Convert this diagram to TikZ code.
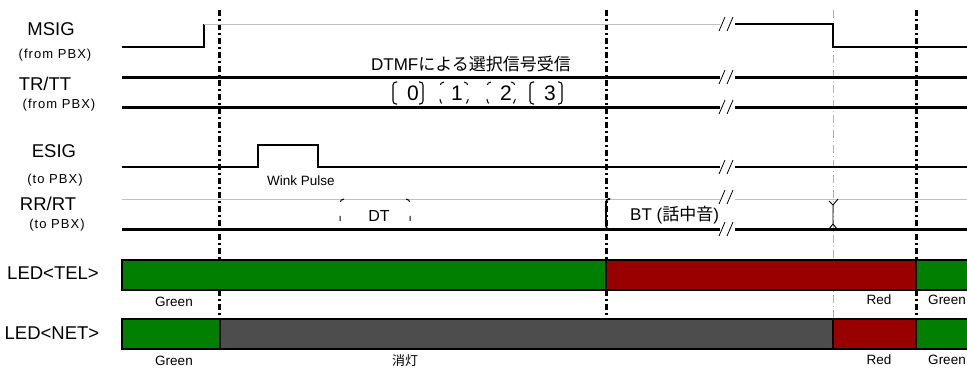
\documentclass[tikz,border=0pt]{standalone}
\usepackage{fontspec}
\setmainfont{Liberation Sans}
\newfontfamily\jp{Noto Sans CJK JP}
\newfontfamily\spaced[LetterSpace=8]{Liberation Sans}
\usepackage{tikz}
\definecolor{ledgreen}{HTML}{007F00}
\definecolor{ledred}{HTML}{990000}
\definecolor{ledoff}{HTML}{4D4D4D}
\tikzset{
  siglabel/.style={inner sep=0pt, font=\fontsize{18.5}{20}\selectfont},
  sublabel/.style={inner sep=0pt, font=\fontsize{13}{15}\selectfont\spaced},
  small/.style={inner sep=0pt, font=\fontsize{13.5}{15}\selectfont},
  sig/.style={line width=1.5pt},
  bus/.style={line width=3pt},
  faint/.style={draw=black!25, line width=0.9pt},
  marker/.style={line width=3pt, dash pattern=on 6pt off 3pt on 2pt off 3pt},
  fmarker/.style={draw=black!30, line width=0.6pt, dash pattern=on 8pt off 3pt on 1pt off 3pt},
  ledbar/.style={draw=black, line width=1.3pt},
  tone/.style={line width=1.1pt, rounded corners=3pt},
  sparse/.style={line width=1pt, rounded corners=4pt, dash pattern=on 5pt off 14pt}
}
% break mark on a line at height #1
\newcommand{\gapmark}[1]{%
  \draw[line width=0.8pt] (719,#1+7) -- (725,#1-7) (727,#1+7) -- (733,#1-7);}
% pair of brackets: style, left x, right x, top y, bottom y
\newcommand{\tonemark}[5]{%
  \draw[#1] (#2+4,#4) -- (#2,#4) -- (#2,#5) -- (#2+4,#5)
            (#3-4,#4) -- (#3,#4) -- (#3,#5) -- (#3-4,#5);}

\begin{document}
\begin{tikzpicture}[x=1pt,y=-1pt]
  \useasboundingbox (0,0) rectangle (967,367);

  % signal names
  \node[siglabel] at (51, 29)  (msig)   {MSIG};
  \node[sublabel] at (55, 55)  (msigs)  {(from PBX)};
  \node[siglabel] at (45, 84)  (trtt)   {TR/TT};
  \node[sublabel] at (59, 105) (trtts)  {(from PBX)};
  \node[siglabel] at (54, 151) (esig)   {ESIG};
  \node[sublabel] at (55, 180) (esigs)  {(to PBX)};
  \node[siglabel] at (48, 204) (rrrt)   {RR/RT};
  \node[sublabel] at (57, 225) (rrrts)  {(to PBX)};
  \node[siglabel] at (53, 273) (ledtel) {LED<TEL>};
  \node[siglabel] at (52, 333) (lednet) {LED<NET>};

  % time markers
  \draw[fmarker] (833,10) -- (833,319);
  \draw[marker] (219,10) -- (219,319);
  \draw[marker] (606,10) -- (606,319);
  \draw[marker] (916,10) -- (916,319);

  % MSIG
  \draw[sig] (122,47) -- (204,47) -- (204,24);
  \draw[faint] (204,24) -- (720,24);
  \draw[sig] (735,24) -- (833,24) -- (833,47) -- (967,47);
  \gapmark{24}

  % TR/TT
  \draw[bus] (122,77) -- (720,77) (735,77) -- (967,77);
  \draw[bus] (122,107) -- (720,107) (735,107) -- (967,107);
  \gapmark{77}
  \gapmark{107}
  \node[inner sep=0pt, font=\fontsize{17}{19}\selectfont] at (471, 64) (dtmf)
    {DTMF{\jp による選択信号受信}};
  \tonemark{tone}{393}{423}{82}{104}
  \tonemark{sparse}{440}{468}{82}{104}
  \tonemark{sparse}{487}{515}{82}{104}
  \tonemark{tone}{530}{562}{82}{104}
  \node[inner sep=0pt, font=\fontsize{21}{23}\selectfont] at (413, 93) (d0) {0};
  \node[inner sep=0pt, font=\fontsize{21}{23}\selectfont] at (457, 93) (d1) {1};
  \node[inner sep=0pt, font=\fontsize{21}{23}\selectfont] at (506, 93) (d2) {2};
  \node[inner sep=0pt, font=\fontsize{21}{23}\selectfont] at (550, 93) (d3) {3};

  % ESIG
  \draw[sig] (122,167) -- (258,167) -- (258,145) -- (318,145) -- (318,167) -- (720,167)
             (735,167) -- (967,167);
  \gapmark{167}
  \node[small] at (301, 181) (wink) {Wink Pulse};

  % RR/RT
  \draw[faint] (122,199) -- (720,199) (735,199) -- (967,199);
  \draw[bus] (122,229) -- (720,229) (735,229) -- (967,229);
  \gapmark{197}
  \gapmark{229}
  \tonemark{sparse}{340}{410}{199}{228}
  \node[inner sep=0pt, font=\fontsize{16}{18}\selectfont] at (379, 216) (dt) {DT};
  \draw[tone, line width=1.6pt] (610,199) -- (606,199) -- (606,229) -- (610,229);
  \node[inner sep=0pt, font=\fontsize{17}{19}\selectfont, anchor=west] at (630, 215) (bt)
    {BT ({\jp 話中音})};
  \draw[line width=0.9pt] (829,201) -- (833,205) -- (838,199)
        (833,205) -- (833,224) (829,229) -- (833,224) -- (837,229);

  % LED<TEL>
  \draw[ledbar, fill=ledgreen] (122,260) rectangle (606,290);
  \draw[ledbar, fill=ledred]   (606,260) rectangle (916,290);
  \draw[ledbar, fill=ledgreen] (916,260) rectangle (968,290);
  \node[small] at (174, 302) (telg1) {Green};
  \node[small] at (879, 300) (telr)  {Red};
  \node[small] at (947, 300) (telg2) {Green};

  % LED<NET>
  \draw[ledbar, fill=ledgreen] (122,319) rectangle (220,349);
  \draw[ledbar, fill=ledoff]   (220,319) rectangle (833,349);
  \draw[ledbar, fill=ledred]   (833,319) rectangle (916,349);
  \draw[ledbar, fill=ledgreen] (916,319) rectangle (968,349);
  \node[small] at (174, 361) (netg1) {Green};
  \node[inner sep=0pt, font=\fontsize{13}{15}\selectfont\jp] at (405, 361) (netoff) {消灯};
  \node[small] at (879, 360) (netr)  {Red};
  \node[small] at (947, 360) (netg2) {Green};
\end{tikzpicture}
\end{document}
